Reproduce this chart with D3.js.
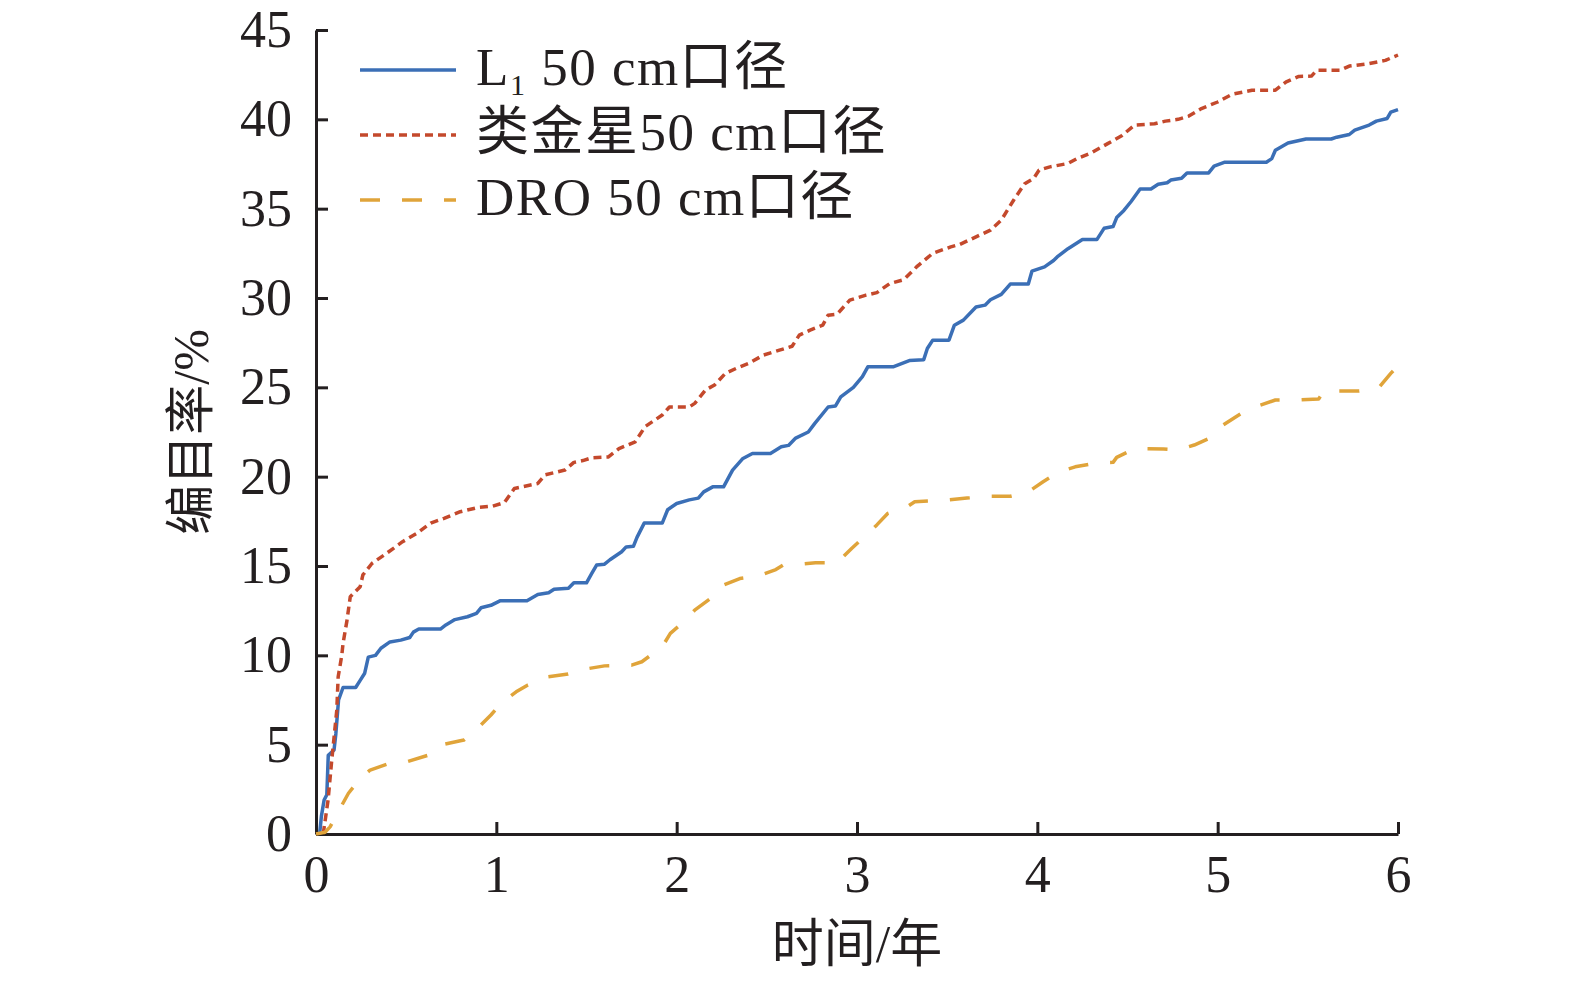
<!DOCTYPE html>
<html>
<head>
<meta charset="utf-8">
<script src="https://cdn.jsdelivr.net/npm/d3@7"></script>
<style>
  body { margin: 0; background: #fff; }
  text { fill: #231f20; font-family: "Liberation Serif", "Noto Sans CJK SC", serif; }
  .axis path, .axis line { stroke: #231f20; stroke-width: 3; }
  .axis text { font-size: 52px; }
</style>
</head>
<body>
<div id="chart-area"></div>
<script>
// 时间/年 (x) and 编目率/% (y)
const l1Years = [0.02, 0.03, 0.045, 0.06, 0.068, 0.1, 0.11, 0.125, 0.15, 0.22, 0.245, 0.27, 0.29, 0.33, 0.36, 0.41, 0.47, 0.52, 0.54, 0.57, 0.69, 0.72, 0.77, 0.84, 0.89, 0.915, 0.97, 1.02, 1.17, 1.23, 1.29, 1.32, 1.4, 1.43, 1.5, 1.53, 1.556, 1.6, 1.63, 1.695, 1.72, 1.76, 1.78, 1.82, 1.92, 1.95, 2.0, 2.07, 2.12, 2.15, 2.2, 2.26, 2.31, 2.365, 2.42, 2.52, 2.58, 2.62, 2.66, 2.73, 2.765, 2.84, 2.88, 2.91, 2.98, 3.03, 3.06, 3.2, 3.29, 3.37, 3.39, 3.42, 3.51, 3.54, 3.59, 3.66, 3.71, 3.74, 3.8, 3.85, 3.95, 3.97, 4.04, 4.09, 4.11, 4.17, 4.25, 4.33, 4.37, 4.42, 4.44, 4.48, 4.52, 4.57, 4.63, 4.67, 4.72, 4.74, 4.8, 4.83, 4.95, 4.98, 5.04, 5.27, 5.3, 5.32, 5.39, 5.49, 5.63, 5.66, 5.73, 5.76, 5.84, 5.88, 5.94, 5.96, 6.0];
const l1Rate = [0, 1.0, 1.9, 2.2, 4.4, 4.7, 5.6, 7.5, 8.2, 8.2, 8.6, 9.0, 9.9, 10.0, 10.4, 10.75, 10.85, 11.0, 11.3, 11.47, 11.47, 11.7, 12.0, 12.16, 12.35, 12.66, 12.8, 13.05, 13.05, 13.4, 13.5, 13.7, 13.75, 14.06, 14.06, 14.6, 15.05, 15.1, 15.35, 15.8, 16.07, 16.1, 16.6, 17.4, 17.4, 18.15, 18.5, 18.7, 18.8, 19.15, 19.43, 19.43, 20.37, 21.0, 21.3, 21.3, 21.67, 21.75, 22.16, 22.5, 22.97, 23.9, 23.95, 24.46, 25.0, 25.6, 26.15, 26.15, 26.5, 26.55, 27.17, 27.64, 27.64, 28.48, 28.76, 29.5, 29.6, 29.9, 30.2, 30.78, 30.78, 31.5, 31.74, 32.1, 32.3, 32.76, 33.27, 33.27, 33.9, 34.0, 34.5, 34.9, 35.4, 36.1, 36.1, 36.37, 36.45, 36.6, 36.7, 37.0, 37.0, 37.38, 37.6, 37.6, 37.8, 38.27, 38.68, 38.9, 38.9, 39.0, 39.15, 39.4, 39.68, 39.9, 40.05, 40.4, 40.54];

const venusYears = [0.04, 0.067, 0.087, 0.115, 0.123, 0.143, 0.15, 0.171, 0.19, 0.245, 0.26, 0.31, 0.39, 0.48, 0.56, 0.636, 0.71, 0.8, 0.896, 0.98, 1.045, 1.1, 1.23, 1.27, 1.38, 1.43, 1.48, 1.53, 1.62, 1.68, 1.77, 1.825, 1.92, 1.96, 2.07, 2.1, 2.16, 2.21, 2.27, 2.33, 2.4, 2.48, 2.57, 2.64, 2.68, 2.74, 2.81, 2.84, 2.89, 2.96, 3.05, 3.11, 3.18, 3.26, 3.33, 3.42, 3.52, 3.57, 3.66, 3.74, 3.8, 3.87, 3.93, 3.98, 4.01, 4.07, 4.17, 4.22, 4.3, 4.39, 4.47, 4.54, 4.65, 4.71, 4.78, 4.84, 4.91, 5.0, 5.08, 5.19, 5.32, 5.38, 5.45, 5.52, 5.55, 5.68, 5.73, 5.84, 5.93, 6.0];
const venusRate = [0, 1.9, 4.1, 6.9, 8.8, 10.0, 10.67, 11.9, 13.28, 13.84, 14.5, 15.14, 15.7, 16.36, 16.83, 17.4, 17.67, 18.04, 18.27, 18.35, 18.55, 19.34, 19.62, 20.1, 20.37, 20.8, 20.9, 21.06, 21.1, 21.57, 21.95, 22.8, 23.45, 23.9, 23.9, 24.1, 24.85, 25.13, 25.78, 26.06, 26.34, 26.8, 27.08, 27.3, 27.92, 28.2, 28.48, 29.04, 29.1, 29.88, 30.16, 30.3, 30.8, 31.03, 31.74, 32.5, 32.86, 33.0, 33.42, 33.8, 34.36, 35.5, 36.4, 36.7, 37.16, 37.34, 37.53, 37.8, 38.13, 38.64, 39.1, 39.68, 39.75, 39.9, 40.0, 40.18, 40.6, 40.97, 41.4, 41.63, 41.63, 42.1, 42.4, 42.42, 42.75, 42.75, 42.98, 43.12, 43.3, 43.6];

const droYears = [0, 0.05, 0.078, 0.134, 0.18, 0.245, 0.3, 0.41, 0.506, 0.626, 0.69, 0.82, 0.877, 0.97, 1.026, 1.11, 1.175, 1.287, 1.398, 1.51, 1.6, 1.75, 1.807, 1.92, 1.965, 2.05, 2.1, 2.2, 2.235, 2.35, 2.45, 2.55, 2.59, 2.68, 2.77, 2.89, 2.97, 3.03, 3.11, 3.17, 3.275, 3.32, 3.5, 3.61, 3.73, 3.85, 3.95, 4.03, 4.12, 4.21, 4.335, 4.42, 4.44, 4.54, 4.7, 4.78, 4.87, 4.98, 5.03, 5.13, 5.22, 5.32, 5.44, 5.56, 5.59, 5.785, 5.89, 5.96, 6.0];
const droRate = [0, 0.1, 0.4, 1.44, 2.28, 3.1, 3.58, 3.96, 4.05, 4.42, 4.98, 5.26, 5.72, 6.66, 7.31, 7.96, 8.34, 8.8, 8.95, 9.26, 9.41, 9.45, 9.64, 10.48, 11.23, 11.97, 12.53, 13.28, 13.84, 14.3, 14.44, 14.8, 15.05, 15.1, 15.18, 15.18, 15.98, 16.54, 17.3, 17.94, 18.3, 18.6, 18.7, 18.8, 18.9, 18.9, 19.15, 19.7, 20.27, 20.55, 20.78, 20.8, 21.08, 21.57, 21.55, 21.5, 21.77, 22.27, 22.89, 23.54, 23.95, 24.29, 24.29, 24.35, 24.8, 24.8, 24.94, 25.78, 26.2];

const seriesNames = ["L1 50 cm口径", "类金星50 cm口径", "DRO 50 cm口径"];
const xTicks = [0, 1, 2, 3, 4, 5, 6];
const yTicks = [0, 5, 10, 15, 20, 25, 30, 35, 40, 45];

const chartSize = { width: 1575, height: 981 };
const margin = { left: 316, right: 183, top: 30, bottom: 147 };
margin.right = 177;
const width = chartSize.width - margin.left - margin.right;
const height = chartSize.height - margin.top - margin.bottom;

const series = [
  { name: seriesNames[0], xs: l1Years, ys: l1Rate, color: "#3b6fb6", dash: null },
  { name: seriesNames[1], xs: venusYears, ys: venusRate, color: "#c4492c", dash: "8,5" },
  { name: seriesNames[2], xs: droYears, ys: droRate, color: "#e0a43a", dash: "20,22" }
];

const main = () => {
  const svg = d3
    .select("#chart-area")
    .append("svg")
    .attr("width", chartSize.width)
    .attr("height", chartSize.height);

  const g = svg
    .append("g")
    .attr("transform", `translate(${margin.left}, ${margin.top})`);

  const x = d3.scaleLinear().domain([0, 6]).range([0, width]);
  const y = d3.scaleLinear().domain([0, 45]).range([height, 0]);

  const xAxis = d3.axisBottom(x).tickValues(xTicks).tickFormat(d3.format("d"))
    .tickSizeInner(-12).tickSizeOuter(0).tickPadding(21);
  const yAxis = d3.axisLeft(y).tickValues(yTicks).tickFormat(d3.format("d"))
    .tickSizeInner(-12).tickSizeOuter(0).tickPadding(24);

  g.append("g").attr("class", "x axis").attr("transform", `translate(0, ${height})`).call(xAxis);
  g.append("g").attr("class", "y axis").call(yAxis);
  g.selectAll(".axis text").attr("fill", "#231f20").attr("font-family", "Liberation Serif");

  const line = d3
    .line()
    .x(d => x(d[0]))
    .y(d => y(d[1]));

  series.forEach(s => {
    const pts = s.xs.map((v, i) => [v, s.ys[i]]);
    g.append("path")
      .attr("d", line(pts))
      .attr("fill", "none")
      .attr("stroke", s.color)
      .attr("stroke-width", 3.5)
      .attr("stroke-linejoin", "round")
      .attr("stroke-dasharray", s.dash);
  });

  // legend
  const legend = svg.append("g").attr("class", "legend");
  series.forEach((s, i) => {
    const yy = 70 + i * 65;
    legend.append("line")
      .attr("x1", 360).attr("x2", 456)
      .attr("y1", yy).attr("y2", yy)
      .attr("stroke", s.color)
      .attr("stroke-width", 3.5)
      .attr("stroke-dasharray", s.dash);
    const t = legend.append("text")
      .attr("x", 476)
      .attr("y", yy + 15)
      .attr("font-size", 53)
      .attr("letter-spacing", 1.5);
    if (i === 0) {
      t.append("tspan").text("L");
      t.append("tspan").attr("font-size", 30).attr("dy", 10).text("1");
      t.append("tspan").attr("dy", -10).text(" 50 cm口径");
    } else {
      t.text(s.name);
    }
  });

  // axis titles
  svg.append("text")
    .attr("x", margin.left + width / 2)
    .attr("y", 962)
    .attr("text-anchor", "middle")
    .attr("font-size", 52)
    .text("时间/年");

  svg.append("text")
    .attr("transform", `translate(208, ${margin.top + height / 2}) rotate(-90)`)
    .attr("text-anchor", "middle")
    .attr("font-size", 50)
    .text("编目率/%");
};

window.onload = main;
</script>
</body>
</html>
